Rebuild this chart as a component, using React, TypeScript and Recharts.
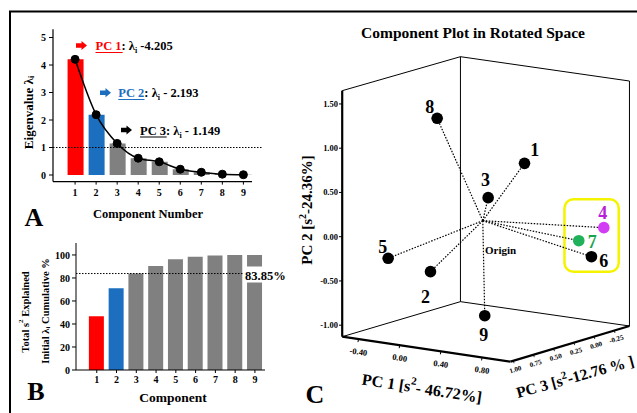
import React from 'react';
import {
  ComposedChart,
  BarChart,
  ScatterChart,
  Bar,
  Line,
  Scatter,
  XAxis,
  YAxis,
  ReferenceLine,
  ReferenceArea,
  Cell,
} from 'recharts';

// ---------------- DATA ----------------
const components = [1, 2, 3, 4, 5, 6, 7, 8, 9];
const eigenvalues = [4.205, 2.193, 1.149, 0.61, 0.48, 0.21, 0.1, 0.03, 0.01];
const cumulativePct = [46.72, 71.09, 83.85, 90.5, 96.2, 98.5, 99.6, 99.9, 100];
const eigenTicks = [0, 1, 2, 3, 4, 5];
const cumTicks = [0, 20, 40, 60, 80, 100];
const kaiserThreshold = 1;
const cumulativeCutoff = 83.85;

// Panel C: variables, read as positions in the projected plane
// (horizontal in PC1-axis units, vertical in PC2-axis units)
const variableIds = ['1', '2', '3', '4', '5', '6', '7', '8', '9'];
const planeX = [1.212, 0.299, 0.859, 1.982, -0.112, 1.862, 1.739, 0.364, 0.826];
const planeY = [0.829, -0.395, 0.441, 0.102, -0.244, -0.226, -0.045, 1.338, -0.893];
const originPoint = { h: 0.807, v: 0.181 };
const pc2Ticks = [-1, -0.5, 0, 0.5, 1, 1.5];
const pc1Ticks = [-0.4, 0, 0.4, 0.8];
const pc3Ticks = [1, 0.75, 0.5, 0.25, 0, -0.25];
const pc3Range = [1.037, -0.436]; // front -> back along right floor edge
const highlightGroup = { x1: 1.6, x2: 2.127, y1: -0.395, y2: 0.423 };

const boxCorners = {
  topLeft: { h: -0.558, v: 1.65 },
  topBack: { h: 0.59, v: 2.034 },
  topRight: { h: 2.231, v: 1.759 },
  backBottom: { h: 0.59, v: -0.734 },
  frontLeft: { h: -0.558, v: -1.13 },
  frontRight: { h: 1.076, v: -1.412 },
  rightBottom: { h: 2.231, v: -1.009 },
};

// ---------------- STYLE ----------------
const SERIF = '"Liberation Serif", "Times New Roman", "DejaVu Serif", serif';
const RED = '#ff0000';
const BLUE = '#1c6fbf';
const GRAY = '#808080';
const barColors = [RED, BLUE, GRAY, GRAY, GRAY, GRAY, GRAY, GRAY, GRAY];

const pointStyle: Record<string, { dot: string; label: string; dx: number; dy: number }> = {
  '1': { dot: '#000', label: '#000', dx: 10.3, dy: -13.3 },
  '2': { dot: '#000', label: '#000', dx: -5, dy: 25 },
  '3': { dot: '#000', label: '#000', dx: -2.7, dy: -17.7 },
  '4': { dot: '#d23cf5', label: '#b81fd8', dx: -1, dy: -14.4 },
  '5': { dot: '#000', label: '#000', dx: -5.4, dy: -11.6 },
  '6': { dot: '#000', label: '#000', dx: 12.3, dy: 4 },
  '7': { dot: '#1fb25a', label: '#17a34a', dx: 13.4, dy: 1.6 },
  '8': { dot: '#000', label: '#000', dx: -7.4, dy: -11.6 },
  '9': { dot: '#000', label: '#000', dx: -1, dy: 19.3 },
};

const tickFont = { fontSize: 10, fontWeight: 700, fill: '#000', fontFamily: SERIF };

// ---------------- DERIVED TABLES ----------------
const eigData = components.map((c, i) => ({ comp: c, eig: eigenvalues[i] }));
const cumData = components.map((c, i) => ({ comp: c, cum: cumulativePct[i] }));
const pointData = variableIds.map((id, i) => ({ id, h: planeX[i], v: planeY[i] }));

const lerp = (a: { h: number; v: number }, b: { h: number; v: number }, f: number) => ({
  h: a.h + (b.h - a.h) * f,
  v: a.v + (b.v - a.v) * f,
});
const pc1TickData = pc1Ticks.map((t) => {
  const f = (t - boxCorners.frontLeft.h) / (boxCorners.frontRight.h - boxCorners.frontLeft.h);
  return { t, ...lerp(boxCorners.frontLeft, boxCorners.frontRight, f) };
});
const pc3TickData = pc3Ticks.map((t) => {
  const f = (pc3Range[0] - t) / (pc3Range[0] - pc3Range[1]);
  return { t, ...lerp(boxCorners.frontRight, boxCorners.rightBottom, f) };
});

const thinEdges = [
  ['topLeft', 'topBack'],
  ['topBack', 'topRight'],
  ['topBack', 'backBottom'],
  ['backBottom', 'frontLeft'],
  ['backBottom', 'rightBottom'],
  ['topRight', 'rightBottom'],
];
const thickEdges = [
  ['topLeft', 'frontLeft'],
  ['frontLeft', 'frontRight'],
  ['frontRight', 'rightBottom'],
];

const seg = (a: { h: number; v: number }, b: { h: number; v: number }) => [
  { x: a.h, y: a.v },
  { x: b.h, y: b.v },
];

// ---------------- SHAPES ----------------
const PointShape = (p: any) => {
  const { cx, cy, payload } = p;
  const st = pointStyle[payload.id];
  return (
    <g>
      <circle cx={cx} cy={cy} r={5.8} fill={st.dot} />
      <text
        x={cx + st.dx}
        y={cy + st.dy}
        textAnchor="middle"
        dominantBaseline="central"
        fontSize={18}
        fontWeight={700}
        fill={st.label}
        fontFamily={SERIF}
      >
        {payload.id}
      </text>
    </g>
  );
};

const Pc1TickShape = (p: any) => {
  const { cx, cy, payload } = p;
  return (
    <g>
      <line x1={cx} y1={cy} x2={cx - 0.5} y2={cy + 3} stroke="#000" strokeWidth={1} />
      <text
        x={0}
        y={0}
        transform={`translate(${cx},${cy + 12.5}) rotate(8.5)`}
        textAnchor="middle"
        dominantBaseline="central"
        fontSize={8.5}
        fontWeight={700}
        fontFamily={SERIF}
        fill="#000"
      >
        {payload.t.toFixed(2)}
      </text>
    </g>
  );
};

const Pc3TickShape = (p: any) => {
  const { cx, cy, payload } = p;
  return (
    <g>
      <line x1={cx} y1={cy} x2={cx + 0.5} y2={cy + 2.5} stroke="#000" strokeWidth={0.8} />
      <text
        x={0}
        y={0}
        transform={`translate(${cx + 2},${cy + 9}) rotate(-17)`}
        textAnchor="middle"
        dominantBaseline="central"
        fontSize={7}
        fontWeight={700}
        fontFamily={SERIF}
        fill="#000"
      >
        {payload.t.toFixed(2)}
      </text>
    </g>
  );
};

const arrowPath = (x: number, y: number) =>
  `M${x},${y - 2.3} L${x + 5.5},${y - 2.3} L${x + 5.5},${y - 4.6} L${x + 11},${y} L${x + 5.5},${y + 4.6} L${x + 5.5},${y + 2.3} L${x},${y + 2.3} Z`;

// ---------------- APP ----------------
export default function App() {
  return (
    <div
      style={{
        position: 'absolute',
        left: 0,
        top: 0,
        width: 637,
        height: 413,
        background: '#fff',
        overflow: 'hidden',
        fontFamily: SERIF,
      }}
    >
      {/* Panel A */}
      <div style={{ position: 'absolute', left: 0, top: 0 }}>
        <ComposedChart
          width={300}
          height={230}
          data={eigData}
          margin={{ top: 29.25, right: 48, bottom: 28.4, left: 0 }}
        >
          <XAxis
            dataKey="comp"
            type="number"
            domain={[-0.05, 9.41]}
            allowDataOverflow
            ticks={components}
            interval={0}
            height={20}
            tickSize={3}
            tickMargin={4}
            axisLine={{ stroke: '#000', strokeWidth: 1.2 }}
            tickLine={{ stroke: '#000' }}
            tick={tickFont}
          />
          <YAxis
            type="number"
            domain={[-0.24, 5.3]}
            allowDataOverflow
            ticks={eigenTicks}
            interval={0}
            width={53}
            tickSize={4}
            tickMargin={3}
            axisLine={{ stroke: '#000', strokeWidth: 1.2 }}
            tickLine={{ stroke: '#000' }}
            tick={tickFont}
          />
          <ReferenceLine
            segment={[
              { x: -0.05, y: kaiserThreshold },
              { x: 9.93, y: kaiserThreshold },
            ]}
            ifOverflow="visible"
            stroke="#000"
            strokeWidth={1}
            strokeDasharray="1.5 1.5"
          />
          <Bar dataKey="eig" barSize={16} isAnimationActive={false}>
            {eigData.map((d, i) => (
              <Cell key={d.comp} fill={barColors[i]} />
            ))}
          </Bar>
          <Line
            type="monotone"
            dataKey="eig"
            stroke="#000"
            strokeWidth={1.5}
            dot={{ r: 4, fill: '#000', stroke: '#000', strokeWidth: 1 }}
            isAnimationActive={false}
          />
        </ComposedChart>
      </div>

      {/* Panel B */}
      <div style={{ position: 'absolute', left: 0, top: 235 }}>
        <BarChart
          width={300}
          height={178}
          data={cumData}
          margin={{ top: 8, right: 35, bottom: 23, left: 0 }}
        >
          <XAxis
            dataKey="comp"
            type="number"
            domain={[-0.05, 9.51]}
            allowDataOverflow
            ticks={components}
            interval={0}
            height={20}
            tickSize={3}
            tickMargin={2.5}
            axisLine={{ stroke: '#000', strokeWidth: 1 }}
            tickLine={{ stroke: '#000' }}
            tick={tickFont}
          />
          <YAxis
            type="number"
            domain={[0, 110.4]}
            allowDataOverflow
            ticks={cumTicks}
            interval={0}
            width={76}
            tickSize={4}
            tickMargin={2}
            axisLine={{ stroke: '#000', strokeWidth: 1 }}
            tickLine={{ stroke: '#000' }}
            tick={tickFont}
          />
          <Bar dataKey="cum" barSize={15} isAnimationActive={false}>
            {cumData.map((d, i) => (
              <Cell key={d.comp} fill={barColors[i]} />
            ))}
          </Bar>
          <ReferenceLine
            segment={[
              { x: -0.05, y: cumulativeCutoff },
              { x: 9.4, y: cumulativeCutoff },
            ]}
            ifOverflow="visible"
            stroke="#000"
            strokeWidth={1}
            strokeDasharray="1.5 1.5"
          />
        </BarChart>
      </div>

      {/* Panel C */}
      <div style={{ position: 'absolute', left: 301.5, top: 42 }}>
        <ScatterChart width={335.6} height={371.7} margin={{ top: 0, right: 0, bottom: 0, left: 0 }}>
          <XAxis dataKey="h" type="number" domain={[-0.56, 2.31]} allowDataOverflow hide />
          <YAxis
            dataKey="v"
            type="number"
            domain={[-2.0, 2.2]}
            allowDataOverflow
            ticks={pc2Ticks}
            interval={0}
            width={40}
            tickSize={3}
            tickMargin={1}
            axisLine={false}
            tickLine={{ stroke: '#000' }}
            tickFormatter={(v: number) => v.toFixed(2)}
            tick={{ fontSize: 8.5, fontWeight: 700, fill: '#000', fontFamily: SERIF }}
          />
          {thinEdges.map(([a, b]) => (
            <ReferenceLine
              key={a + b}
              segment={seg((boxCorners as any)[a], (boxCorners as any)[b])}
              ifOverflow="visible"
              stroke="#000"
              strokeWidth={1}
            />
          ))}
          {thickEdges.map(([a, b]) => (
            <ReferenceLine
              key={a + b}
              segment={seg((boxCorners as any)[a], (boxCorners as any)[b])}
              ifOverflow="visible"
              stroke="#000"
              strokeWidth={2.2}
            />
          ))}
          {pointData.map((d) => (
            <ReferenceLine
              key={'ray' + d.id}
              segment={[
                { x: originPoint.h, y: originPoint.v },
                { x: d.h, y: d.v },
              ]}
              ifOverflow="visible"
              stroke="#000"
              strokeWidth={1.2}
              strokeDasharray="1.5 1.5"
            />
          ))}
          <ReferenceArea
            x1={highlightGroup.x1}
            x2={highlightGroup.x2}
            y1={highlightGroup.y1}
            y2={highlightGroup.y2}
            ifOverflow="visible"
            shape={(p: any) => (
              <rect
                x={p.x}
                y={p.y}
                width={p.width}
                height={p.height}
                rx={9}
                ry={9}
                fill="none"
                stroke="#f4f400"
                strokeWidth={2.5}
              />
            )}
          />
          <Scatter data={pc1TickData} dataKey="v" shape={Pc1TickShape} isAnimationActive={false} />
          <Scatter data={pc3TickData} dataKey="v" shape={Pc3TickShape} isAnimationActive={false} />
          <Scatter data={pointData} dataKey="v" shape={PointShape} isAnimationActive={false} />
        </ScatterChart>
      </div>

      {/* Overlay text and frame */}
      <svg
        width={637}
        height={413}
        style={{ position: 'absolute', left: 0, top: 0, pointerEvents: 'none' }}
        fontFamily={SERIF}
        fontWeight={700}
      >
        <line x1={9} y1={11.5} x2={637} y2={11.5} stroke="#000" strokeWidth={2} />
        <line x1={10} y1={11} x2={10} y2={413} stroke="#000" strokeWidth={2} />

        {/* Panel A annotations */}
        <path d={arrowPath(76, 45.5)} fill={RED} />
        <text x={95.5} y={50} fontSize={12.5}>
          <tspan fill={RED}>PC 1</tspan>
          <tspan fill="#000">: λ</tspan>
          <tspan fontSize={8} dy={3}>i</tspan>
          <tspan dy={-3}> -4.205</tspan>
        </text>
        <line x1={95.5} x2={122.7} y1={52.5} y2={52.5} stroke={RED} strokeWidth={1} />

        <path d={arrowPath(100, 92.7)} fill={BLUE} />
        <text x={118.3} y={97} fontSize={12.5}>
          <tspan fill={BLUE}>PC 2</tspan>
          <tspan fill="#000">: λ</tspan>
          <tspan fontSize={8} dy={3}>i</tspan>
          <tspan dy={-3}> - 2.193</tspan>
        </text>
        <line x1={118.3} x2={144.5} y1={99.5} y2={99.5} stroke={BLUE} strokeWidth={1} />

        <path d={arrowPath(121, 130)} fill="#000" />
        <text x={140} y={134.5} fontSize={12.5}>
          <tspan fill="#000">PC 3</tspan>
          <tspan fill="#000">: λ</tspan>
          <tspan fontSize={8} dy={3}>i</tspan>
          <tspan dy={-3}> - 1.149</tspan>
        </text>
        <line x1={140} x2={166.7} y1={137} y2={137} stroke="#000" strokeWidth={1} />

        <text transform="translate(28,112.5) rotate(-90)" textAnchor="middle" dominantBaseline="central" fontSize={13}>
          Eigenvalue λ<tspan fontSize={8} dy={3}>i</tspan>
        </text>
        <text x={148} y={214} textAnchor="middle" dominantBaseline="central" fontSize={12.5}>
          Component Number
        </text>
        <text x={34} y={217} textAnchor="middle" dominantBaseline="central" fontSize={26}>
          A
        </text>

        {/* Panel B annotations */}
        <rect x={244} y={266.5} width={44} height={16} fill="#fff" />
        <text x={245} y={275.5} dominantBaseline="central" fontSize={12.5}>
          83.85%
        </text>
        <text transform="translate(25,312) rotate(-90)" textAnchor="middle" dominantBaseline="central" fontSize={10.5}>
          Total s<tspan fontSize={7} dy={-4}>2</tspan>
          <tspan dy={4}> Explained</tspan>
        </text>
        <text transform="translate(45,311) rotate(-90)" textAnchor="middle" dominantBaseline="central" fontSize={10.5}>
          Initial λ<tspan fontSize={7} dy={3}>i</tspan>
          <tspan dy={-3}> Cumulative %</tspan>
        </text>
        <text x={173} y={397} textAnchor="middle" dominantBaseline="central" fontSize={13.5}>
          Component
        </text>
        <text x={36} y={391} textAnchor="middle" dominantBaseline="central" fontSize={26}>
          B
        </text>

        {/* Panel C annotations */}
        <text x={473} y={32} textAnchor="middle" dominantBaseline="central" fontSize={15.5}>
          Component Plot in Rotated Space
        </text>
        <text transform="translate(307,210) rotate(-90)" textAnchor="middle" dominantBaseline="central" fontSize={15}>
          PC 2 [s<tspan fontSize={10} dy={-5}>2</tspan>
          <tspan dy={5}>-24.36%]</tspan>
        </text>
        <text x={485} y={249.5} dominantBaseline="central" fontSize={11}>
          Origin
        </text>
        <text transform="translate(422,388) rotate(8.5)" textAnchor="middle" dominantBaseline="central" fontSize={16}>
          PC 1 [s<tspan fontSize={11} dy={-6}>2</tspan>
          <tspan dy={6}>- 46.72%]</tspan>
        </text>
        <text transform="translate(518,398) rotate(-15.5)" fontSize={15.5}>
          PC 3 [s<tspan fontSize={11} dy={-6}>2</tspan>
          <tspan dy={6}>-12.76 % ]</tspan>
        </text>
        <text x={315} y={394} textAnchor="middle" dominantBaseline="central" fontSize={26}>
          C
        </text>
      </svg>
    </div>
  );
}
